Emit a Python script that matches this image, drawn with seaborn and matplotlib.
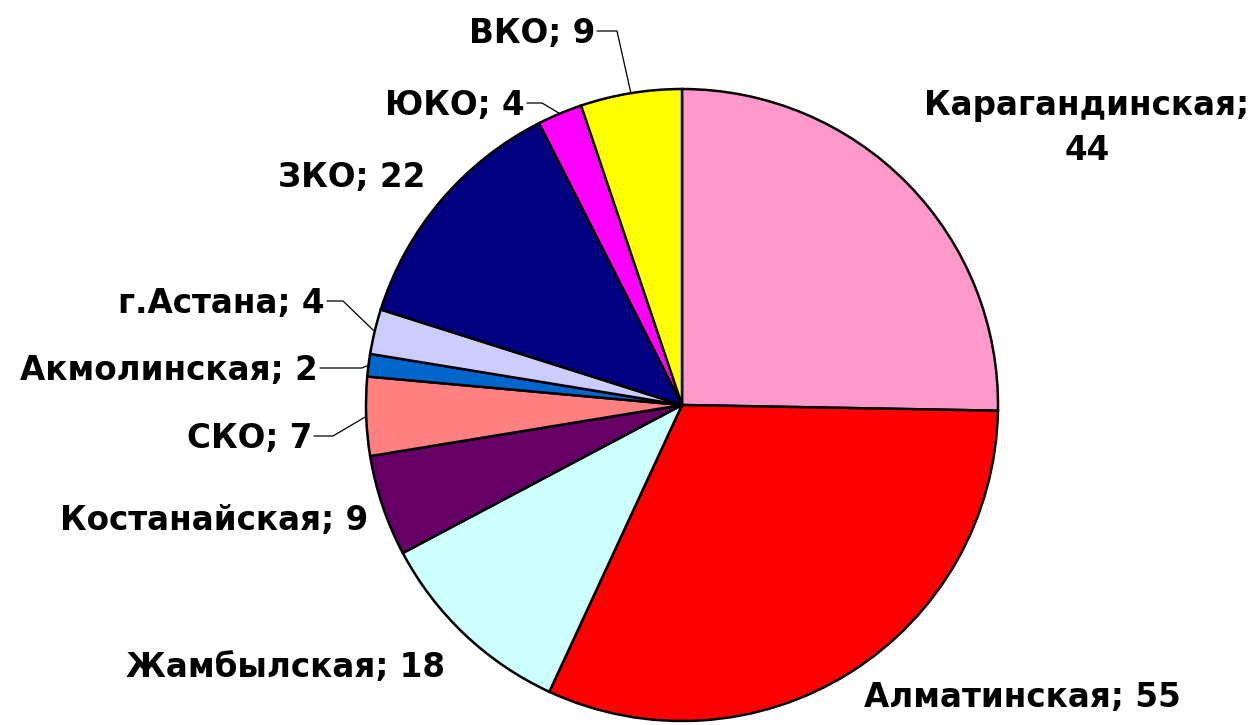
import seaborn as sns
import matplotlib
matplotlib.use('Agg')
import matplotlib.pyplot as plt
import numpy as np

# data
regions = ['Карагандинская', 'Алматинская', 'Жамбылская', 'Костанайская', 'СКО',
           'Акмолинская', 'г.Астана', 'ЗКО', 'ЮКО', 'ВКО']
counts = [44, 55, 18, 9, 7, 2, 4, 22, 4, 9]
colors = ['#FF99CC', '#FF0000', '#CCFFFF', '#660066', '#FF8080',
          '#0066CC', '#CCCCFF', '#000080', '#FF00FF', '#FFFF00']

# layout in image pixels (y measured from top)
W, H = 1254, 725
cx, cy, R = 682, 405, 316
label_x = [1087, 864, 445, 368, 312, 318, 325, 425, 525, 595]
label_base = [115, 707, 677, 530, 448, 380, 313, 187, 115, 43]
label_ha = ['center', 'left', 'right', 'right', 'right', 'right', 'right', 'right', 'right', 'right']
elbow_x = [None, None, None, None, 333, 362, 343, None, 542, 617]

sns.set_theme(style='white')
plt.rcParams['font.family'] = ['DejaVu Sans']

fig = plt.figure(figsize=(12.54, 7.25), dpi=100)
ax = fig.add_axes([0, 0, 1, 1])

wedges, _ = ax.pie(counts, colors=colors, startangle=90, counterclock=False,
                   center=(cx, H - cy), radius=R,
                   wedgeprops=dict(edgecolor='black', linewidth=1.8))

font = dict(fontsize=23.5, fontweight='bold', color='black')
for i, w in enumerate(wedges):
    y = H - label_base[i]
    if regions[i] == 'Карагандинская':
        ax.text(label_x[i], y, regions[i] + ';', ha='center', va='baseline', **font)
        ax.text(label_x[i], y - 45, str(counts[i]), ha='center', va='baseline', **font)
        continue
    ax.text(label_x[i], y, f'{regions[i]}; {counts[i]}', ha=label_ha[i],
            va='baseline', **font)
    if elbow_x[i] is not None:
        mid = np.deg2rad((w.theta1 + w.theta2) / 2)
        ex = cx + R * np.cos(mid)
        ey = (H - cy) + R * np.sin(mid)
        ly = y + 12
        ax.plot([label_x[i] + 2, elbow_x[i], ex], [ly, ly, ey],
                color='black', linewidth=0.9)

ax.set_xlim(0, W)
ax.set_ylim(0, H)
ax.set_aspect('equal')
ax.axis('off')

fig.savefig('out.png', dpi=100)
plt.close(fig)
